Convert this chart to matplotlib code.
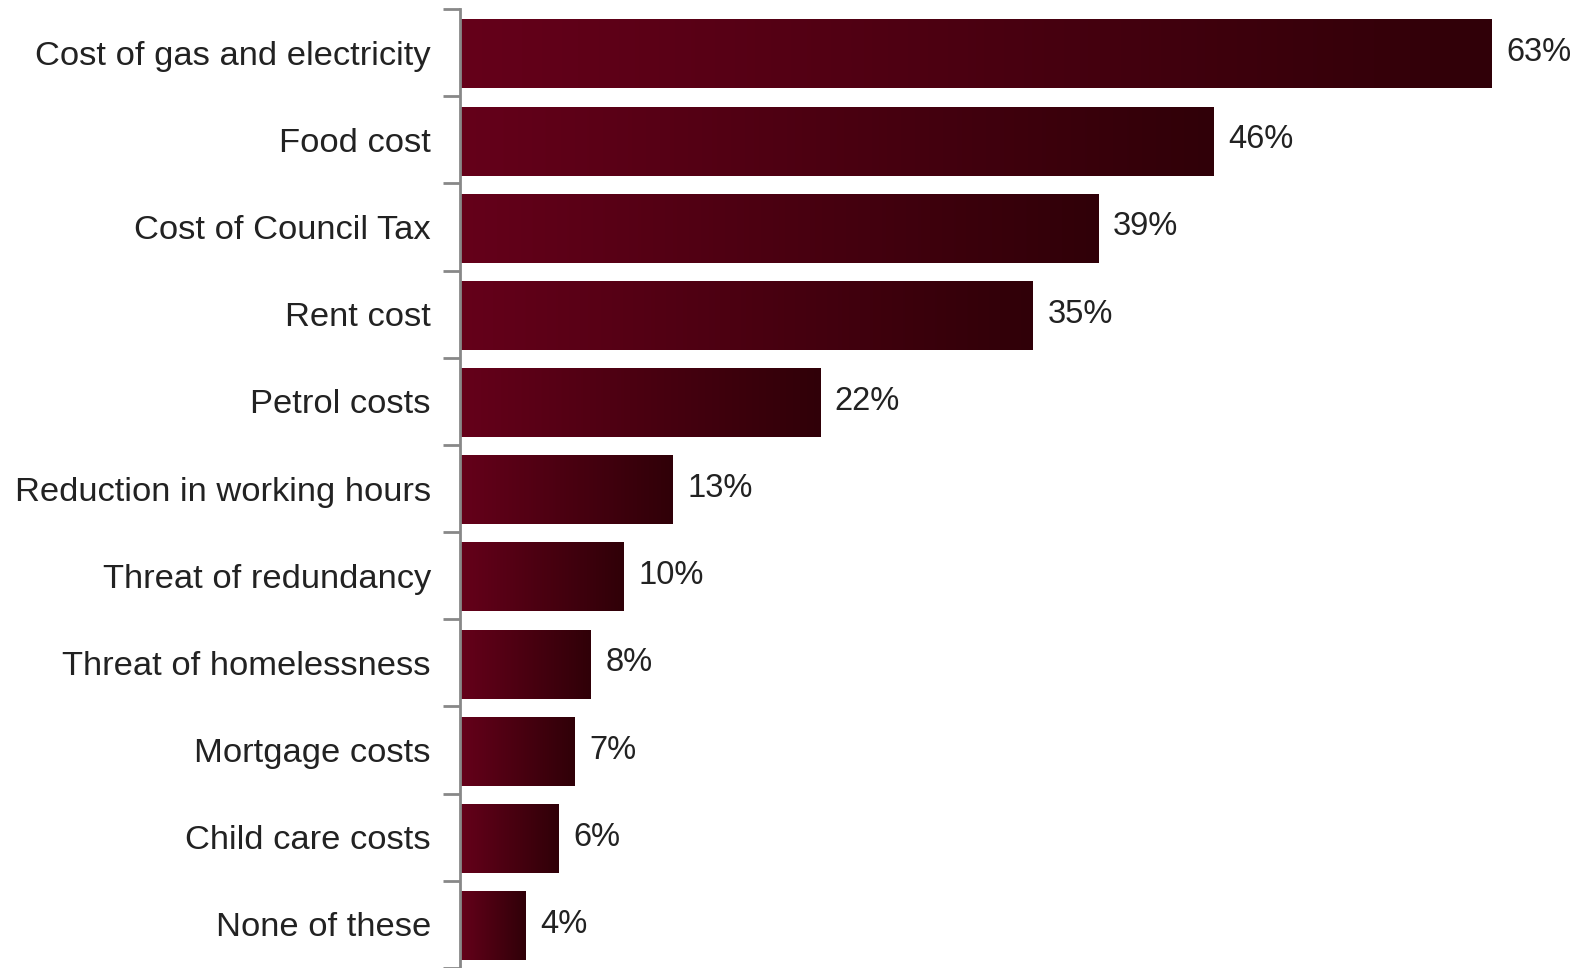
import numpy as np
import matplotlib
matplotlib.use('Agg')
import matplotlib.pyplot as plt
from matplotlib.colors import LinearSegmentedColormap

plt.rcParams['font.family'] = ['Liberation Sans', 'DejaVu Sans']

categories = ['Cost of gas and electricity', 'Food cost', 'Cost of Council Tax', 'Rent cost',
              'Petrol costs', 'Reduction in working hours', 'Threat of redundancy',
              'Threat of homelessness', 'Mortgage costs', 'Child care costs', 'None of these']
values = [63, 46, 39, 35, 22, 13, 10, 8, 7, 6, 4]

# gradient for each bar, lighter on the left, darker on the right
grad = LinearSegmentedColormap.from_list('bar', ['#65001a', '#300008'])

fig = plt.figure(figsize=(15.91, 9.68), dpi=100)
ax = fig.add_axes([460 / 1591, 0.0, 1 - 460 / 1591, 0.9907])

n = len(categories)
ypos = np.arange(n)[::-1]
h = 0.78
g = np.linspace(0, 1, 256).reshape(1, -1)
for y, v in zip(ypos, values):
    ax.imshow(g, cmap=grad, aspect='auto', extent=[0, v, y - h / 2 - 0.02, y + h / 2 - 0.02],
              interpolation='bilinear', zorder=2)
    ax.text(v + 0.9, y, f'{v}%', va='center', ha='left', fontsize=23.5, color='#222222')

ax.set_xlim(0, (1591 - 460) / 16.37)
ax.set_ylim(-0.5, n - 0.5)
ax.set_yticks(ypos)
ax.set_yticklabels(categories, fontsize=24.8, color='#222222')
ax.set_yticks(np.arange(n + 1) - 0.5, minor=True)
ax.tick_params(axis='y', which='major', length=0, pad=21)
ax.tick_params(axis='y', which='minor', length=12, width=2, color='#888888')
ax.set_xticks([])
for s in ['top', 'right', 'bottom']:
    ax.spines[s].set_visible(False)
ax.spines['left'].set_color('#888888')
ax.spines['left'].set_linewidth(2)

fig.savefig('out.png', dpi=100)
